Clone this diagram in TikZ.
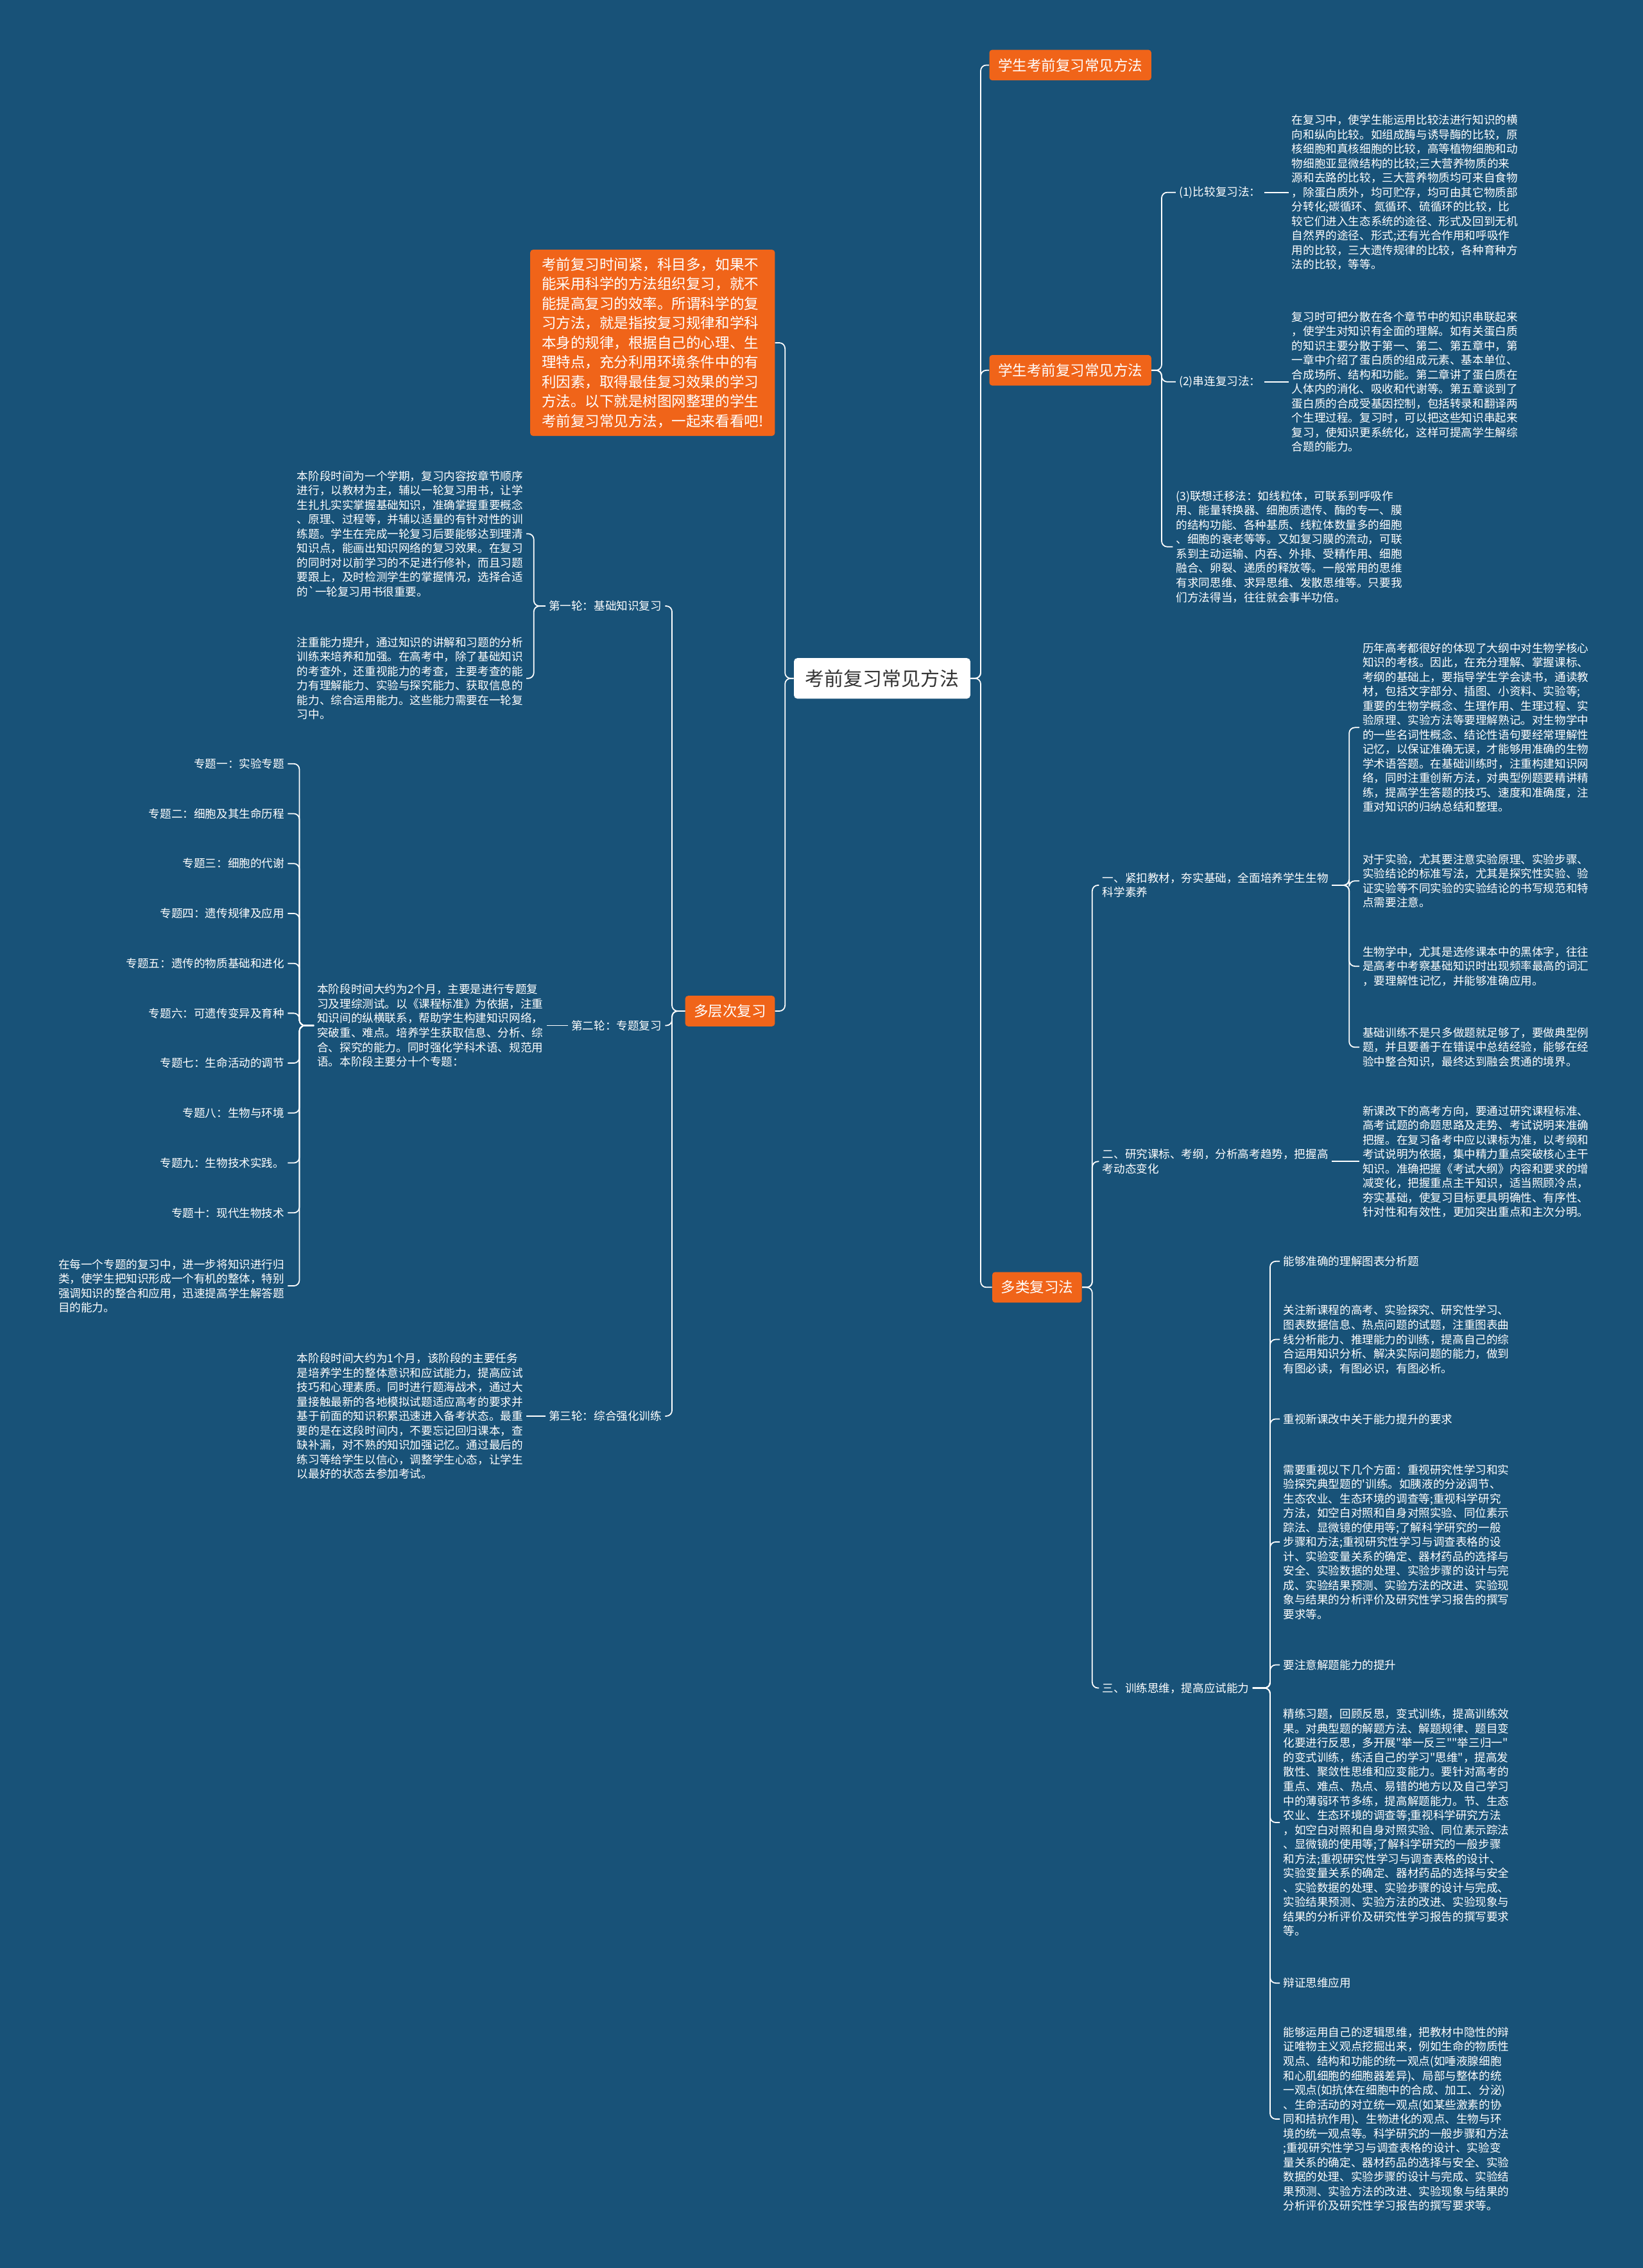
\documentclass[tikz,border=0pt]{standalone}
\usepackage{fontspec}
\setmainfont{Noto Sans CJK SC}
\usepackage{tikz}
\usetikzlibrary{positioning}
\definecolor{bgblue}{RGB}{24,82,120}
\definecolor{mmorange}{RGB}{240,100,25}
\definecolor{rootgray}{RGB}{51,51,51}

\begin{document}
\begin{tikzpicture}[x=0.045cm, y=-0.045cm,
  link/.style={draw=white, line width=1pt, rounded corners=5pt},
  root/.style={fill=white, text=rootgray, rounded corners=3pt, font=\fontsize{17}{20}\selectfont, minimum width=5.49cm, minimum height=1.26cm},
  branch/.style={fill=mmorange, text=white, rounded corners=2.5pt, font=\fontsize{12.8}{15}\selectfont, inner xsep=0.27cm, minimum height=0.95cm},
  para/.style={fill=mmorange, text=white, rounded corners=2.5pt, align=left, font=\fontsize{12.8}{17.3}\selectfont, inner xsep=0.36cm, inner ysep=0.25cm},
  txt/.style={text=white, align=left, font=\fontsize{10}{12.8}\selectfont, inner xsep=1mm, inner ysep=0.5mm}]
\fill[bgblue] (0,0) rectangle (1136,1568);
\useasboundingbox (0,0) rectangle (1136,1568);

\node[root] (root) at (610,469) {考前复习常见方法};

% right side
\node[branch, anchor=west] (rb1) at (684,45) {学生考前复习常见方法};
\node[branch, anchor=west] (rb2) at (684,256) {学生考前复习常见方法};
\node[branch, anchor=west] (rb3) at (686,890) {多类复习法};

\node[txt, anchor=west] (m1) at (813,133) {(1)比较复习法：};
\node[txt, anchor=west] (m1t) at (891,133) {在复习中，使学生能运用比较法进行知识的横\\%
向和纵向比较。如组成酶与诱导酶的比较，原\\%
核细胞和真核细胞的比较，高等植物细胞和动\\%
物细胞亚显微结构的比较;三大营养物质的来\\%
源和去路的比较，三大营养物质均可来自食物\\%
，除蛋白质外，均可贮存，均可由其它物质部\\%
分转化;碳循环、氮循环、硫循环的比较，比\\%
较它们进入生态系统的途径、形式及回到无机\\%
自然界的途径、形式;还有光合作用和呼吸作\\%
用的比较，三大遗传规律的比较，各种育种方\\%
法的比较，等等。};
\node[txt, anchor=west] (m2) at (813,264) {(2)串连复习法：};
\node[txt, anchor=west] (m2t) at (891,264) {复习时可把分散在各个章节中的知识串联起来\\%
，使学生对知识有全面的理解。如有关蛋白质\\%
的知识主要分散于第一、第二、第五章中，第\\%
一章中介绍了蛋白质的组成元素、基本单位、\\%
合成场所、结构和功能。第二章讲了蛋白质在\\%
人体内的消化、吸收和代谢等。第五章谈到了\\%
蛋白质的合成受基因控制，包括转录和翻译两\\%
个生理过程。复习时，可以把这些知识串起来\\%
复习，使知识更系统化，这样可提高学生解综\\%
合题的能力。};
\node[txt, anchor=west] (m3) at (811,378) {(3)联想迁移法：如线粒体，可联系到呼吸作\\%
用、能量转换器、细胞质遗传、酶的专一、膜\\%
的结构功能、各种基质、线粒体数量多的细胞\\%
、细胞的衰老等等。又如复习膜的流动，可联\\%
系到主动运输、内吞、外排、受精作用、细胞\\%
融合、卵裂、递质的释放等。一般常用的思维\\%
有求同思维、求异思维、发散思维等。只要我\\%
们方法得当，往往就会事半功倍。};

\node[txt, anchor=west] (k1) at (760,612) {一、紧扣教材，夯实基础，全面培养学生生物\\科学素养};
\node[txt, anchor=west] (k1a) at (940,503) {历年高考都很好的体现了大纲中对生物学核心\\%
知识的考核。因此，在充分理解、掌握课标、\\%
考纲的基础上，要指导学生学会读书，通读教\\%
材，包括文字部分、插图、小资料、实验等;\\%
重要的生物学概念、生理作用、生理过程、实\\%
验原理、实验方法等要理解熟记。对生物学中\\%
的一些名词性概念、结论性语句要经常理解性\\%
记忆，以保证准确无误，才能够用准确的生物\\%
学术语答题。在基础训练时，注重构建知识网\\%
络，同时注重创新方法，对典型例题要精讲精\\%
练，提高学生答题的技巧、速度和准确度，注\\%
重对知识的归纳总结和整理。};
\node[txt, anchor=west] (k1b) at (940,609) {对于实验，尤其要注意实验原理、实验步骤、\\%
实验结论的标准写法，尤其是探究性实验、验\\%
证实验等不同实验的实验结论的书写规范和特\\%
点需要注意。};
\node[txt, anchor=west] (k1c) at (940,668) {生物学中，尤其是选修课本中的黑体字，往往\\%
是高考中考察基础知识时出现频率最高的词汇\\%
，要理解性记忆，并能够准确应用。};
\node[txt, anchor=west] (k1d) at (940,724) {基础训练不是只多做题就足够了，要做典型例\\%
题，并且要善于在错误中总结经验，能够在经\\%
验中整合知识，最终达到融会贯通的境界。};

\node[txt, anchor=west] (k2) at (760,803) {二、研究课标、考纲，分析高考趋势，把握高\\考动态变化};
\node[txt, anchor=west] (k2t) at (940,803) {新课改下的高考方向，要通过研究课程标准、\\%
高考试题的命题思路及走势、考试说明来准确\\%
把握。在复习备考中应以课标为准，以考纲和\\%
考试说明为依据，集中精力重点突破核心主干\\%
知识。准确把握《考试大纲》内容和要求的增\\%
减变化，把握重点主干知识，适当照顾冷点，\\%
夯实基础，使复习目标更具明确性、有序性、\\%
针对性和有效性，更加突出重点和主次分明。};

\node[txt, anchor=west] (k3) at (760,1167) {三、训练思维，提高应试能力};
\node[txt, anchor=west] (k3a) at (885,872) {能够准确的理解图表分析题};
\node[txt, anchor=west] (k3b) at (885,926) {关注新课程的高考、实验探究、研究性学习、\\%
图表数据信息、热点问题的试题，注重图表曲\\%
线分析能力、推理能力的训练，提高自己的综\\%
合运用知识分析、解决实际问题的能力，做到\\%
有图必读，有图必识，有图必析。};
\node[txt, anchor=west] (k3c) at (885,981) {重视新课改中关于能力提升的要求};
\node[txt, anchor=west] (k3d) at (885,1066) {需要重视以下几个方面：重视研究性学习和实\\%
验探究典型题的\textquotesingle 训练。如胰液的分泌调节、\\%
生态农业、生态环境的调查等;重视科学研究\\%
方法，如空白对照和自身对照实验、同位素示\\%
踪法、显微镜的使用等;了解科学研究的一般\\%
步骤和方法;重视研究性学习与调查表格的设\\%
计、实验变量关系的确定、器材药品的选择与\\%
安全、实验数据的处理、实验步骤的设计与完\\%
成、实验结果预测、实验方法的改进、实验现\\%
象与结果的分析评价及研究性学习报告的撰写\\%
要求等。};
\node[txt, anchor=west] (k3e) at (885,1151) {要注意解题能力的提升};
\node[txt, anchor=west] (k3f) at (885,1260) {精练习题，回顾反思，变式训练，提高训练效\\%
果。对典型题的解题方法、解题规律、题目变\\%
化要进行反思，多开展\textquotedbl 举一反三\textquotedbl\textquotedbl 举三归一\textquotedbl\\%
的变式训练，练活自己的学习\textquotedbl 思维\textquotedbl ，提高发\\%
散性、聚敛性思维和应变能力。要针对高考的\\%
重点、难点、热点、易错的地方以及自己学习\\%
中的薄弱环节多练，提高解题能力。节、生态\\%
农业、生态环境的调查等;重视科学研究方法\\%
，如空白对照和自身对照实验、同位素示踪法\\%
、显微镜的使用等;了解科学研究的一般步骤\\%
和方法;重视研究性学习与调查表格的设计、\\%
实验变量关系的确定、器材药品的选择与安全\\%
、实验数据的处理、实验步骤的设计与完成、\\%
实验结果预测、实验方法的改进、实验现象与\\%
结果的分析评价及研究性学习报告的撰写要求\\%
等。};
\node[txt, anchor=west] (k3g) at (885,1371) {辩证思维应用};
\node[txt, anchor=west] (k3h) at (885,1465) {能够运用自己的逻辑思维，把教材中隐性的辩\\%
证唯物主义观点挖掘出来，例如生命的物质性\\%
观点、结构和功能的统一观点(如唾液腺细胞\\%
和心肌细胞的细胞器差异)、局部与整体的统\\%
一观点(如抗体在细胞中的合成、加工、分泌)\\%
、生命活动的对立统一观点(如某些激素的协\\%
同和拮抗作用)、生物进化的观点、生物与环\\%
境的统一观点等。科学研究的一般步骤和方法\\%
;重视研究性学习与调查表格的设计、实验变\\%
量关系的确定、器材药品的选择与安全、实验\\%
数据的处理、实验步骤的设计与完成、实验结\\%
果预测、实验方法的改进、实验现象与结果的\\%
分析评价及研究性学习报告的撰写要求等。};

% left side
\node[para, anchor=east] (intro) at (536,237) {考前复习时间紧，科目多，如果不\\%
能采用科学的方法组织复习，就不\\%
能提高复习的效率。所谓科学的复\\%
习方法，就是指按复习规律和学科\\%
本身的规律，根据自己的心理、生\\%
理特点，充分利用环境条件中的有\\%
利因素，取得最佳复习效果的学习\\%
方法。以下就是树图网整理的学生\\%
考前复习常见方法，一起来看看吧!};
\node[branch, anchor=east] (lb) at (536,699) {多层次复习};

\node[txt, anchor=east] (r1) at (460,419) {第一轮：基础知识复习};
\node[txt, anchor=east] (r1a) at (364,369) {本阶段时间为一个学期，复习内容按章节顺序\\%
进行，以教材为主，辅以一轮复习用书，让学\\%
生扎扎实实掌握基础知识，准确掌握重要概念\\%
、原理、过程等，并辅以适量的有针对性的训\\%
练题。学生在完成一轮复习后要能够达到理清\\%
知识点，能画出知识网络的复习效果。在复习\\%
的同时对以前学习的不足进行修补，而且习题\\%
要跟上，及时检测学生的掌握情况，选择合适\\%
的\textasciigrave 一轮复习用书很重要。};
\node[txt, anchor=east] (r1b) at (364,469) {注重能力提升，通过知识的讲解和习题的分析\\%
训练来培养和加强。在高考中，除了基础知识\\%
的考查外，还重视能力的考查，主要考查的能\\%
力有理解能力、实验与探究能力、获取信息的\\%
能力、综合运用能力。这些能力需要在一轮复\\%
习中。};

\node[txt, anchor=east] (r2) at (460,709) {第二轮：专题复习};
\node[txt, anchor=east] (r2a) at (378,709) {本阶段时间大约为2个月，主要是进行专题复\\%
习及理综测试。以《课程标准》为依据，注重\\%
知识间的纵横联系，帮助学生构建知识网络，\\%
突破重、难点。培养学生获取信息、分析、综\\%
合、探究的能力。同时强化学科术语、规范用\\%
语。本阶段主要分十个专题：};
\foreach \t [count=\i] in {专题一：实验专题, 专题二：细胞及其生命历程, 专题三：细胞的代谢, 专题四：遗传规律及应用, 专题五：遗传的物质基础和进化, 专题六：可遗传变异及育种, 专题七：生命活动的调节, 专题八：生物与环境, 专题九：生物技术实践。, 专题十：现代生物技术}
  \node[txt, anchor=east] (z\i) at (199,{493.5+34.5*\i}) {\t};
\node[txt, anchor=east] (z11) at (199,889) {在每一个专题的复习中，进一步将知识进行归\\%
类，使学生把知识形成一个有机的整体，特别\\%
强调知识的整合和应用，迅速提高学生解答题\\%
目的能力。};

\node[txt, anchor=east] (r3) at (460,979) {第三轮：综合强化训练};
\node[txt, anchor=east] (r3a) at (364,979) {本阶段时间大约为1个月，该阶段的主要任务\\%
是培养学生的整体意识和应试能力，提高应试\\%
技巧和心理素质。同时进行题海战术，通过大\\%
量接触最新的各地模拟试题适应高考的要求并\\%
基于前面的知识积累迅速进入备考状态。最重\\%
要的是在这段时间内，不要忘记回归课本，查\\%
缺补漏，对不熟的知识加强记忆。通过最后的\\%
练习等给学生以信心，调整学生心态，让学生\\%
以最好的状态去参加考试。};

% connectors
\foreach \b in {rb1,rb2,rb3} \draw[link] (root.east) -- ++(7,0) |- (\b.west);
\foreach \b in {intro,lb} \draw[link] (root.west) -- ++(-6,0) |- (\b.east);

\foreach \c in {m1,m2,m3} \draw[link] (rb2.east) -- ++(7,0) |- (\c.west);
\draw[link] (m1.east) -- (m1t.west);
\draw[link] (m2.east) -- (m2t.west);

\foreach \c in {k1,k2,k3} \draw[link] (rb3.east) -- ++(7,0) |- (\c.west);
\foreach \c in {k1a,k1b,k1c,k1d} \draw[link] (k1.east) -- ++(12,0) |- (\c.west);
\draw[link] (k2.east) -- (k2t.west);
\foreach \c in {k3a,k3b,k3c,k3d,k3e,k3f,k3g,k3h} \draw[link] (k3.east) -- ++(12,0) |- (\c.west);

\foreach \c in {r1,r2,r3} \draw[link] (lb.west) -- ++(-9,0) |- (\c.east);
\foreach \c in {r1a,r1b} \draw[link] (r1.west) -- ++(-8,0) |- (\c.east);
\draw[link] (r2.west) -- (r2a.east);
\foreach \i in {1,...,11} \draw[link] (r2a.west) -- ++(-10,0) |- (z\i.east);
\draw[link] (r3.west) -- (r3a.east);

\end{tikzpicture}
\end{document}
